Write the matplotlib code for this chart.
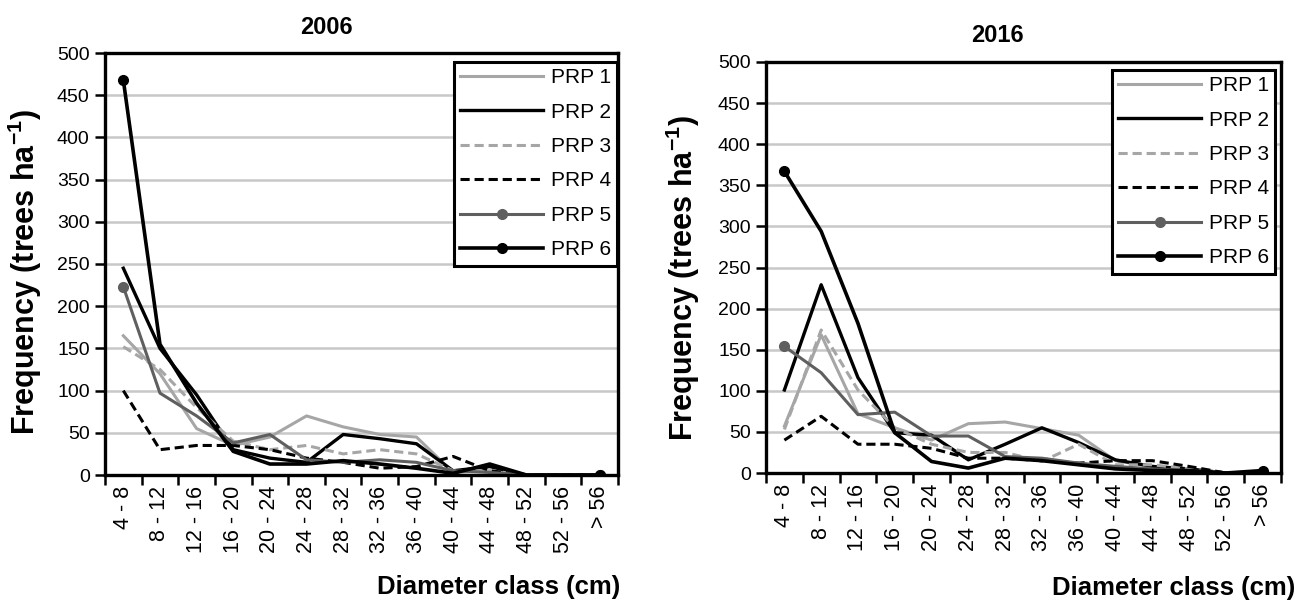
import matplotlib
matplotlib.use("Agg")
import matplotlib.pyplot as plt
import numpy as np

plt.rcParams['font.family'] = ['Liberation Sans', 'DejaVu Sans']
plt.rcParams['mathtext.fontset'] = 'custom'
plt.rcParams['mathtext.rm'] = 'Liberation Sans'
plt.rcParams['mathtext.bf'] = 'Liberation Sans:bold'

categories = ["4 - 8", "8 - 12", "12 - 16", "16 - 20", "20 - 24", "24 - 28", "28 - 32",
              "32 - 36", "36 - 40", "40 - 44", "44 - 48", "48 - 52", "52 - 56", "> 56"]
series_names = ["PRP 1", "PRP 2", "PRP 3", "PRP 4", "PRP 5", "PRP 6"]

y2006_prp1 = [165, 120, 55, 35, 45, 70, 57, 48, 45, 3, 5, 0, 0, 0]
y2006_prp2 = [245, 150, 95, 30, 20, 15, 48, 43, 37, 5, 10, 0, 0, 0]
y2006_prp3 = [152, 125, 80, 40, 30, 35, 25, 30, 25, 5, 5, 0, 0, 0]
y2006_prp4 = [100, 30, 35, 35, 30, 20, 15, 8, 10, 22, 5, 0, 0, 0]
y2006_prp5 = [223, 97, 70, 38, 48, 18, 15, 18, 15, 5, 3, 0, 0, 0]
y2006_prp6 = [468, 155, 85, 28, 13, 13, 17, 13, 8, 2, 13, 0, 0, 0]

y2016_prp1 = [57, 168, 72, 55, 40, 60, 62, 54, 46, 15, 8, 5, 0, 0]
y2016_prp2 = [101, 229, 116, 49, 46, 16, 35, 55, 37, 16, 8, 5, 0, 0]
y2016_prp3 = [53, 174, 101, 55, 35, 25, 25, 14, 35, 10, 10, 5, 0, 0]
y2016_prp4 = [40, 69, 35, 35, 30, 18, 18, 15, 12, 15, 15, 8, 0, 0]
y2016_prp5 = [154, 122, 71, 74, 45, 45, 20, 18, 12, 8, 5, 3, 0, 0]
y2016_prp6 = [367, 294, 182, 49, 14, 6, 18, 15, 10, 5, 3, 3, 0, 3]

years = ["2006", "2016"]
data = {
    "2006": [y2006_prp1, y2006_prp2, y2006_prp3, y2006_prp4, y2006_prp5, y2006_prp6],
    "2016": [y2016_prp1, y2016_prp2, y2016_prp3, y2016_prp4, y2016_prp5, y2016_prp6],
}

styles = [
    dict(color="#a6a6a6", ls="-", lw=2.2),
    dict(color="#000000", ls="-", lw=2.4),
    dict(color="#a6a6a6", ls=(0, (3, 1.6)), lw=2.2),
    dict(color="#000000", ls=(0, (3, 1.6)), lw=2.2),
    dict(color="#5f5f5f", ls="-", lw=2.2, marker="o", ms=7, markevery=[0, len(categories) - 1]),
    dict(color="#000000", ls="-", lw=2.6, marker="o", ms=7, markevery=[0, len(categories) - 1]),
]

W, H = 1306, 601
fig = plt.figure(figsize=(W / 100, H / 100), dpi=100)

def fx(px):
    return px / W

def fy(py):
    return 1 - py / H

# axes boxes in pixels: left, top, right, bottom
axes_px = [(105, 53, 618, 475), (766, 62, 1281, 473)]
legend_px = [(617, 62), (1275, 70)]
title_px = [(326, 28), (997, 35)]
ylabel_px = [(25, 272), (683, 278)]
xlabel_px = [(620, 587), (1295, 588)]

x = np.arange(len(categories))
for k, yr in enumerate(years):
    l, t, r, b = axes_px[k]
    ax = fig.add_axes([fx(l), fy(b), fx(r) - fx(l), fy(t) - fy(b)])
    for name, vals, st in zip(series_names, data[yr], styles):
        ax.plot(x, vals, label=name, solid_joinstyle="round", **st)
    ax.set_xlim(-0.5, len(categories) - 0.5)
    ax.set_ylim(0, 500)
    ax.set_yticks(np.arange(0, 501, 50))
    ax.grid(axis="y", color="#c8c8c8", lw=1.8)
    ax.set_axisbelow(True)
    ax.set_xticks(x)
    ax.set_xticklabels(categories, rotation=90, fontsize=15.5)
    ax.set_xticks(np.arange(-0.5, len(categories) + 0.5, 1), minor=True)
    ax.tick_params(axis="x", which="major", length=0, pad=8)
    ax.tick_params(axis="x", which="minor", length=7, width=1.8, direction="out")
    ax.tick_params(axis="y", length=7, width=1.8, labelsize=14, pad=4)
    for sp in ax.spines.values():
        sp.set_linewidth(2.4)
        sp.set_color("black")
    leg = ax.legend(loc="upper right", bbox_to_anchor=(fx(legend_px[k][0]), fy(legend_px[k][1])),
                    bbox_transform=fig.transFigure, fontsize=15,
                    frameon=True, fancybox=False, edgecolor="black", handlelength=4.0,
                    handletextpad=0.35, labelspacing=0.74, borderpad=0.3, borderaxespad=0.0)
    leg.get_frame().set_linewidth(2.2)
    leg.get_frame().set_alpha(1)
    fig.text(fx(title_px[k][0]), fy(title_px[k][1]), yr, fontsize=17, fontweight="bold",
             ha="center", va="center")
    fig.text(fx(ylabel_px[k][0]), fy(ylabel_px[k][1]), "Frequency (trees ha$^{\\mathbf{-1}}$)",
             fontsize=22, fontweight="bold", rotation=90, ha="center", va="center")
    fig.text(fx(xlabel_px[k][0]), fy(xlabel_px[k][1]), "Diameter class (cm)",
             fontsize=18.5, fontweight="bold", ha="right", va="center")

fig.savefig("out.png", dpi=100)
